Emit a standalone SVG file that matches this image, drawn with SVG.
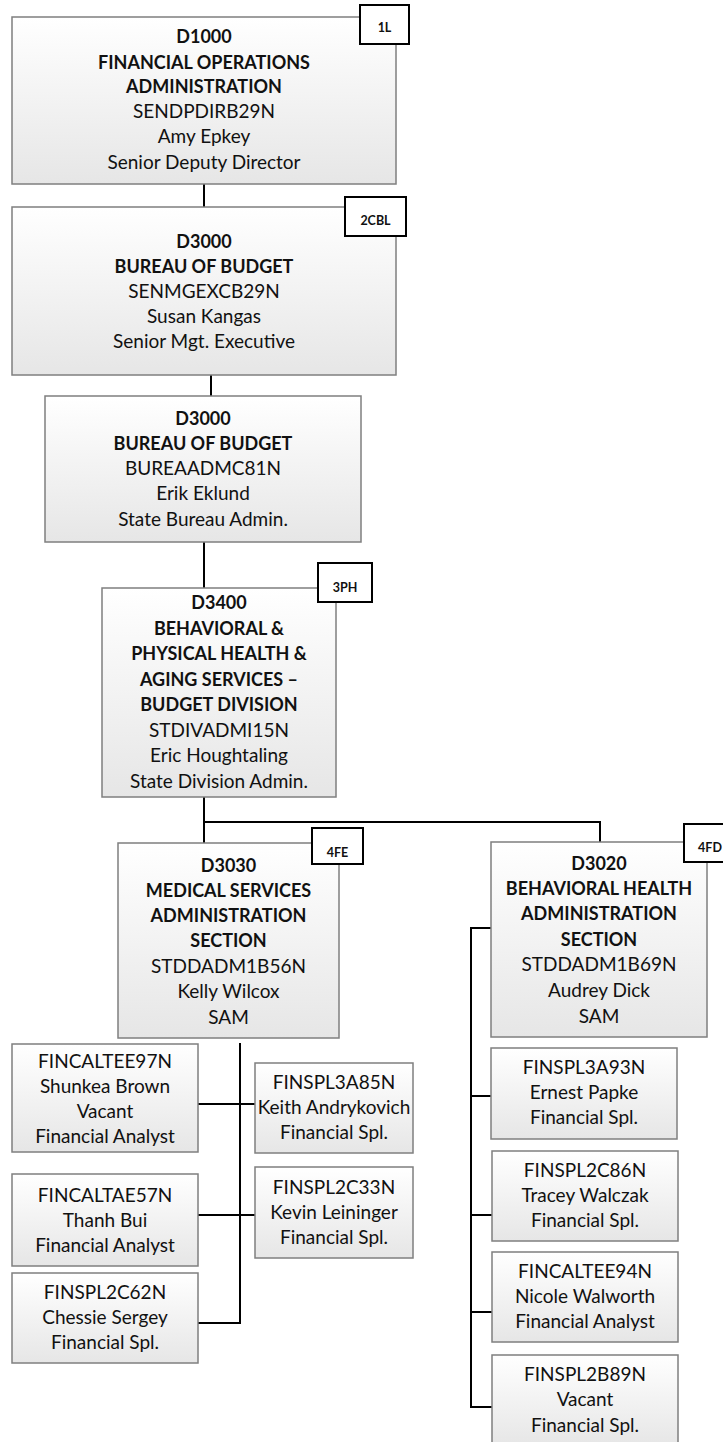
<svg xmlns="http://www.w3.org/2000/svg" width="723" height="1442" viewBox="0 0 723 1442">
<defs>
<linearGradient id="g" x1="0" y1="0" x2="0" y2="1">
<stop offset="0" stop-color="#ffffff"/>
<stop offset="1" stop-color="#e6e6e6"/>
</linearGradient>
<style>
.box{fill:url(#g);stroke:#7f7f7f;stroke-width:1.5}
.badge{fill:#ffffff;stroke:#000;stroke-width:2}
.bt{font-family:Lato,"Liberation Sans",sans-serif;font-size:12.5px;font-weight:bold;fill:#111;text-anchor:middle}
.t{font-family:Lato,"Liberation Sans",sans-serif;font-size:19px;fill:#111;text-anchor:middle}
.b{font-weight:bold;font-size:18px}
.c{fill:none;stroke:#000;stroke-width:2}
</style>
</defs>
<rect width="723" height="1442" fill="#fff"/>
<g id="connectors">
<path class="c" d="M204 184V207"/>
<path class="c" d="M211 375V396"/>
<path class="c" d="M204 542V588"/>
<path class="c" d="M204 797V843M204 822H600V842"/>
<path class="c" d="M240 1043V1323H198M198 1104H255M198 1215H255"/>
<path class="c" d="M491 928H471V1407H492M471 1096H491M471 1215H492M471 1312H492"/>
</g>
<g id="n1">
<rect class="box" x="12" y="17" width="384" height="167"/>
<text class="t b" x="204" y="43">D1000</text>
<text class="t b" x="204" y="69">FINANCIAL OPERATIONS</text>
<text class="t b" x="204" y="93">ADMINISTRATION</text>
<text class="t" x="204" y="118">SENDPDIRB29N</text>
<text class="t" x="204" y="143">Amy Epkey</text>
<text class="t" x="204" y="169">Senior Deputy Director</text>
<rect class="badge" x="360" y="5" width="49" height="39"/>
<text class="bt" x="384.5" y="32">1L</text>
</g>
<g id="n2">
<rect class="box" x="12" y="207" width="384" height="168"/>
<text class="t b" x="204" y="248">D3000</text>
<text class="t b" x="204" y="273">BUREAU OF BUDGET</text>
<text class="t" x="204" y="298">SENMGEXCB29N</text>
<text class="t" x="204" y="323">Susan Kangas</text>
<text class="t" x="204" y="348">Senior Mgt. Executive</text>
<rect class="badge" x="345" y="197" width="61" height="39"/>
<text class="bt" x="375.5" y="225">2CBL</text>
</g>
<g id="n3">
<rect class="box" x="45" y="396" width="316" height="146"/>
<text class="t b" x="203" y="425">D3000</text>
<text class="t b" x="203" y="450">BUREAU OF BUDGET</text>
<text class="t" x="203" y="475">BUREAADMC81N</text>
<text class="t" x="203" y="500">Erik Eklund</text>
<text class="t" x="203" y="526">State Bureau Admin.</text>
</g>
<g id="n4">
<rect class="box" x="102" y="588" width="234" height="209"/>
<text class="t b" x="219" y="609">D3400</text>
<text class="t b" x="219" y="635">BEHAVIORAL &amp;</text>
<text class="t b" x="219" y="660">PHYSICAL HEALTH &amp;</text>
<text class="t b" x="219" y="686">AGING SERVICES –</text>
<text class="t b" x="219" y="711">BUDGET DIVISION</text>
<text class="t" x="219" y="737">STDIVADMI15N</text>
<text class="t" x="219" y="762">Eric Houghtaling</text>
<text class="t" x="219" y="788">State Division Admin.</text>
<rect class="badge" x="318" y="563" width="54" height="39"/>
<text class="bt" x="345" y="592">3PH</text>
</g>
<g id="n5">
<rect class="box" x="118" y="843" width="221" height="195"/>
<text class="t b" x="228.5" y="872">D3030</text>
<text class="t b" x="228.5" y="897">MEDICAL SERVICES</text>
<text class="t b" x="228.5" y="922">ADMINISTRATION</text>
<text class="t b" x="228.5" y="947">SECTION</text>
<text class="t" x="228.5" y="973">STDDADM1B56N</text>
<text class="t" x="228.5" y="998">Kelly Wilcox</text>
<text class="t" x="228.5" y="1024">SAM</text>
<rect class="badge" x="312" y="828" width="51" height="36"/>
<text class="bt" x="337.5" y="857">4FE</text>
</g>
<g id="n6">
<rect class="box" x="491" y="842" width="216" height="195"/>
<text class="t b" x="599" y="870">D3020</text>
<text class="t b" x="599" y="895">BEHAVIORAL HEALTH</text>
<text class="t b" x="599" y="920">ADMINISTRATION</text>
<text class="t b" x="599" y="946">SECTION</text>
<text class="t" x="599" y="971">STDDADM1B69N</text>
<text class="t" x="599" y="997">Audrey Dick</text>
<text class="t" x="599" y="1023">SAM</text>
<rect class="badge" x="684" y="824" width="51" height="38"/>
<text class="bt" x="710" y="852">4FD</text>
</g>
<g id="l1">
<rect class="box" x="12" y="1044" width="186" height="108"/>
<text class="t" x="105" y="1068">FINCALTEE97N</text>
<text class="t" x="105" y="1093">Shunkea Brown</text>
<text class="t" x="105" y="1118">Vacant</text>
<text class="t" x="105" y="1143">Financial Analyst</text>
</g>
<g id="l2">
<rect class="box" x="12" y="1174" width="186" height="92"/>
<text class="t" x="105" y="1202">FINCALTAE57N</text>
<text class="t" x="105" y="1227">Thanh Bui</text>
<text class="t" x="105" y="1252">Financial Analyst</text>
</g>
<g id="l3">
<rect class="box" x="12" y="1273" width="186" height="90"/>
<text class="t" x="105" y="1299">FINSPL2C62N</text>
<text class="t" x="105" y="1324">Chessie Sergey</text>
<text class="t" x="105" y="1349">Financial Spl.</text>
</g>
<g id="r1">
<rect class="box" x="255" y="1063" width="158" height="90"/>
<text class="t" x="334" y="1089">FINSPL3A85N</text>
<text class="t" x="334" y="1114">Keith Andrykovich</text>
<text class="t" x="334" y="1139">Financial Spl.</text>
</g>
<g id="r2">
<rect class="box" x="255" y="1167" width="158" height="91"/>
<text class="t" x="334" y="1194">FINSPL2C33N</text>
<text class="t" x="334" y="1219">Kevin Leininger</text>
<text class="t" x="334" y="1244">Financial Spl.</text>
</g>
<g id="c1">
<rect class="box" x="491" y="1048" width="186" height="91"/>
<text class="t" x="584" y="1074">FINSPL3A93N</text>
<text class="t" x="584" y="1099">Ernest Papke</text>
<text class="t" x="584" y="1124">Financial Spl.</text>
</g>
<g id="c2">
<rect class="box" x="492" y="1151" width="186" height="90"/>
<text class="t" x="585" y="1177">FINSPL2C86N</text>
<text class="t" x="585" y="1202">Tracey Walczak</text>
<text class="t" x="585" y="1227">Financial Spl.</text>
</g>
<g id="c3">
<rect class="box" x="492" y="1252" width="186" height="90"/>
<text class="t" x="585" y="1278">FINCALTEE94N</text>
<text class="t" x="585" y="1303">Nicole Walworth</text>
<text class="t" x="585" y="1328">Financial Analyst</text>
</g>
<g id="c4">
<rect class="box" x="492" y="1355" width="186" height="91"/>
<text class="t" x="585" y="1381">FINSPL2B89N</text>
<text class="t" x="585" y="1406">Vacant</text>
<text class="t" x="585" y="1432">Financial Spl.</text>
</g>
</svg>
